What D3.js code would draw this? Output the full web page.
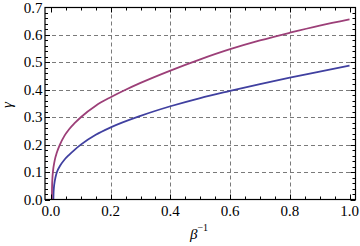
<!DOCTYPE html>
<html>
  <head>
    <script src="https://d3js.org/d3.v7.min.js"></script>
    <style>
      body { margin: 0; background: #fff; }
      .grid { stroke: #7a7a7a; stroke-width: 1px; stroke-dasharray: 4,3; }
      .tick-label { font: 15px "Liberation Serif", serif; fill: #000; }
      .curve { fill: none; stroke-width: 1.8px; }
    </style>
  </head>
  <body>
    <div id="chart"></div>
    <script>
      // values
      const xRed = [0.003, 0.0035, 0.005, 0.007, 0.012, 0.02, 0.03, 0.045, 0.06, 0.08, 0.1, 0.15, 0.2, 0.25, 0.3, 0.4, 0.5, 0.6, 0.7, 0.8, 0.9, 1.0];
      const yRed = [0.0, 0.04, 0.08, 0.105, 0.14, 0.172, 0.2, 0.232, 0.255, 0.279, 0.3, 0.342, 0.373, 0.4, 0.425, 0.47, 0.511, 0.548, 0.58, 0.608, 0.634, 0.657];
      const xBlue = [0.008, 0.0085, 0.01, 0.0125, 0.015, 0.02, 0.03, 0.045, 0.06, 0.08, 0.1, 0.15, 0.2, 0.3, 0.4, 0.5, 0.6, 0.7, 0.8, 0.9, 1.0];
      const yBlue = [0.0, 0.02, 0.045, 0.066, 0.08, 0.1, 0.122, 0.145, 0.162, 0.182, 0.2, 0.236, 0.263, 0.305, 0.34, 0.37, 0.396, 0.421, 0.444, 0.466, 0.488];
      const xTicks = [0.0, 0.2, 0.4, 0.6, 0.8, 1.0];
      const yTicks = [0.0, 0.1, 0.2, 0.3, 0.4, 0.5, 0.6, 0.7];
      const xGrid = [0.2, 0.4, 0.6, 0.8];
      const yGrid = [0.1, 0.2, 0.3, 0.4, 0.5, 0.6];

      const width = 360, height = 246;
      const plotLeft = 45, plotRight = 355.5, plotTop = 7.5, plotBottom = 199.5;

      const svg = d3.select("#chart").append("svg")
        .attr("width", width)
        .attr("height", height);

      const x = d3.scaleLinear().domain([-0.02, 1.02]).range([plotLeft, plotRight]);
      const y = d3.scaleLinear().domain([0, 0.7]).range([plotBottom, plotTop]);

      // grid
      svg.selectAll(".gx").data(xGrid).enter().append("line")
        .attr("class", "grid")
        .attr("x1", d => Math.round(x(d)) + 0.5).attr("x2", d => Math.round(x(d)) + 0.5)
        .attr("y1", plotTop).attr("y2", plotBottom);
      svg.selectAll(".gy").data(yGrid).enter().append("line")
        .attr("class", "grid")
        .attr("y1", d => Math.round(y(d)) + 0.5).attr("y2", d => Math.round(y(d)) + 0.5)
        .attr("x1", plotLeft).attr("x2", plotRight);

      // curves
      const line = d3.line().x(d => x(d[0])).y(d => y(d[1])).curve(d3.curveMonotoneX);
      svg.append("path").attr("class", "curve")
        .attr("stroke", "#4040a0")
        .attr("d", line(d3.zip(xBlue, yBlue)));
      svg.append("path").attr("class", "curve")
        .attr("stroke", "#9c3f78")
        .attr("d", line(d3.zip(xRed, yRed)));

      // frame ticks (inside, all four sides)
      const xMinor = d3.range(0, 1.0001, 0.05);
      const yMinor = d3.range(0, 0.7001, 0.02);
      const isMajor = (v, step) => Math.abs(v / step - Math.round(v / step)) < 1e-6;
      const tk = svg.append("g").attr("stroke", "#000").attr("stroke-width", 1);
      xMinor.forEach(v => {
        const len = isMajor(v, 0.2) ? 5 : 3;
        const px = Math.round(x(v)) + 0.5;
        tk.append("line").attr("x1", px).attr("x2", px).attr("y1", plotBottom).attr("y2", plotBottom - len);
        tk.append("line").attr("x1", px).attr("x2", px).attr("y1", plotTop).attr("y2", plotTop + len);
      });
      yMinor.forEach(v => {
        const len = isMajor(v, 0.1) ? 5 : 3;
        const py = Math.round(y(v)) + 0.5;
        tk.append("line").attr("y1", py).attr("y2", py).attr("x1", plotLeft).attr("x2", plotLeft + len);
        tk.append("line").attr("y1", py).attr("y2", py).attr("x1", plotRight).attr("x2", plotRight - len);
      });

      // frame
      svg.append("rect")
        .attr("x", plotLeft).attr("y", plotTop)
        .attr("width", plotRight - plotLeft).attr("height", plotBottom - plotTop)
        .attr("fill", "none").attr("stroke", "#000").attr("stroke-width", 1.2);

      // tick labels
      svg.selectAll(".xl").data(xTicks).enter().append("text")
        .attr("class", "tick-label")
        .attr("x", d => x(d)).attr("y", 215.5)
        .attr("text-anchor", "middle")
        .text(d => d.toFixed(1));
      svg.selectAll(".yl").data(yTicks).enter().append("text")
        .attr("class", "tick-label")
        .attr("x", 42.5).attr("y", d => y(d) + 5)
        .attr("text-anchor", "end")
        .text(d => d.toFixed(1));

      // axis labels
      svg.append("text")
        .attr("transform", "translate(12,105) rotate(-90)")
        .attr("text-anchor", "middle")
        .style("font", "italic 15px 'Liberation Serif', serif")
        .text("γ");
      const xl = svg.append("text")
        .attr("x", 199).attr("y", 239)
        .attr("text-anchor", "middle")
        .style("font", "15px 'Liberation Serif', serif");
      xl.append("tspan").style("font-style", "italic").text("β");
      xl.append("tspan").attr("dy", -8).style("font-size", "10px").text("−1");
    </script>
  </body>
</html>
